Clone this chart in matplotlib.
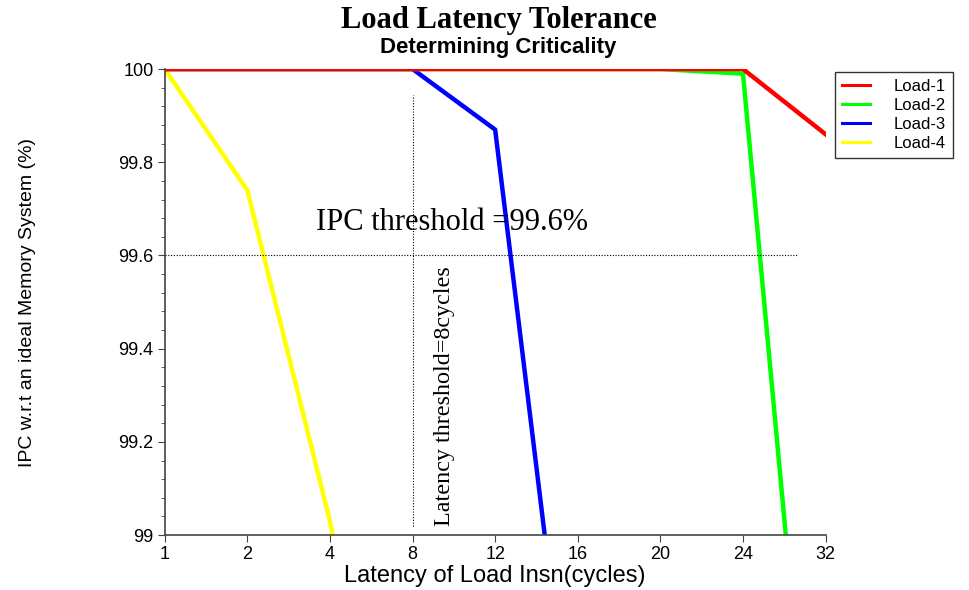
#!/usr/bin/env python
"""Load latency tolerance chart"""
import numpy as np
import matplotlib
matplotlib.use('Agg')
import matplotlib.pyplot as plt
from matplotlib.ticker import MultipleLocator

latency_labels = ['1', '2', '4', '8', '12', '16', '20', '24', '32']
load1 = [100, 100, 100, 100, 100, 100, 100, 100, 99.86]
load2 = [100, 100, 100, 100, 100, 100, 100, 99.99, 98.08]
load3 = [100, 100, 100, 100, 99.87, 98.42, np.nan, np.nan, np.nan]
load4 = [100, 99.74, 99.03, 98.14, np.nan, np.nan, np.nan, np.nan, np.nan]

series = [('Load-1', load1, '#ff0000'),
          ('Load-2', load2, '#00ff00'),
          ('Load-3', load3, '#0000ff'),
          ('Load-4', load4, '#ffff00')]

ytick_vals = [99, 99.2, 99.4, 99.6, 99.8, 100]
ytick_labels = ['99', '99.2', '99.4', '99.6', '99.8', '100']

ipc_threshold = 99.6
latency_threshold = '8'

fig = plt.figure(figsize=(9.69, 5.9), dpi=100)
ax = fig.add_axes([0.170, 0.093, 0.682, 0.790])

x = np.arange(len(latency_labels))
handles = {}
# draw Load-1 last so it sits on top
for name, vals, color in reversed(series):
    line, = ax.plot(x, vals, color=color, linewidth=3.2, label=name)
    handles[name] = line

ax.set_xlim(0, len(latency_labels) - 1)
ax.set_ylim(99, 100)
ax.set_xticks(x)
ax.set_xticklabels(latency_labels)
ax.set_yticks(ytick_vals)
ax.set_yticklabels(ytick_labels)
ax.yaxis.set_minor_locator(MultipleLocator(0.04))

for side in ['top', 'right']:
    ax.spines[side].set_visible(False)
for side in ['left', 'bottom']:
    ax.spines[side].set_color('#444444')
    ax.spines[side].set_linewidth(1.2)
ax.tick_params(axis='both', which='major', direction='out', length=5,
               color='#444444', labelsize=13, pad=3)
ax.tick_params(axis='y', which='minor', direction='out', length=3, color='#444444')
for lab in ax.get_xticklabels() + ax.get_yticklabels():
    lab.set_family('Liberation Sans')

# threshold lines
thr_x = latency_labels.index(latency_threshold)
ax.plot([0, 7.65], [ipc_threshold, ipc_threshold], color='black',
        linestyle=(0, (1, 1.5)), linewidth=0.8)
ax.plot([thr_x, thr_x], [99.02, 99.945], color='black',
        linestyle=(0, (1, 1.5)), linewidth=0.8)

ax.text(1.83, 99.64, 'IPC threshold =99.6%', family='Liberation Serif',
        fontsize=22, ha='left', va='bottom')
ax.text(3.39, 99.02, 'Latency threshold=8cycles', family='Liberation Serif',
        fontsize=17.4, rotation=90, ha='center', va='bottom')

ax.set_xlabel('Latency of Load Insn(cycles)', family='Liberation Sans', fontsize=17, labelpad=1)
ax.set_ylabel('IPC w.r.t an ideal Memory System (%)', family='Liberation Sans', fontsize=14)
ax.yaxis.set_label_coords(-0.195, 0.5)

fig.text(0.515, 0.966, 'Load Latency Tolerance', family='Liberation Serif',
         fontweight='bold', fontsize=22, ha='center', va='center')
fig.text(0.514, 0.920, 'Determining Criticality', family='Liberation Sans',
         fontweight='bold', fontsize=16, ha='center', va='center')

leg = fig.legend([handles[n] for n, _, _ in series], [n for n, _, _ in series],
                 loc='upper left', bbox_to_anchor=(0.862, 0.878), borderaxespad=0,
                 frameon=True, fancybox=False, handlelength=1.7, handletextpad=1.4,
                 borderpad=0.4, labelspacing=0.25,
                 prop={'family': 'Liberation Sans', 'size': 12})
leg.get_frame().set_edgecolor('black')
leg.get_frame().set_linewidth(1.0)
for h in leg.get_lines():
    h.set_linewidth(2.2)

fig.savefig('out.png', dpi=100)
